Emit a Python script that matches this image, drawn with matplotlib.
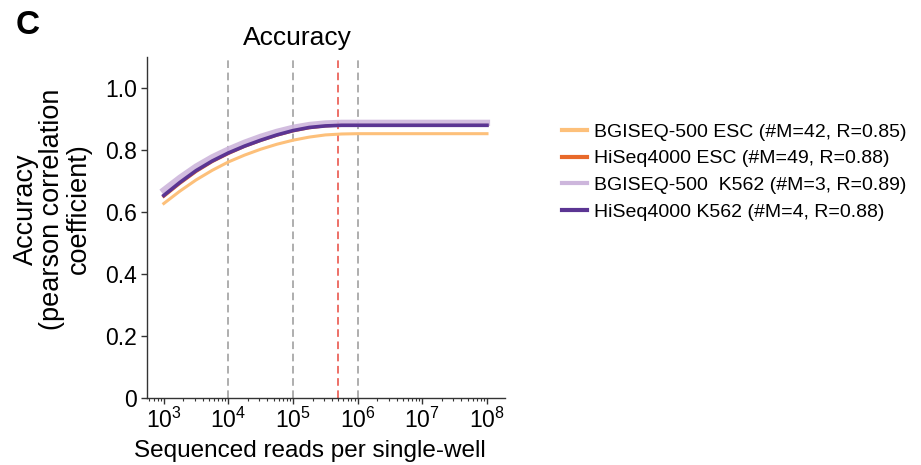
import numpy as np
import matplotlib
matplotlib.use("Agg")
import matplotlib.pyplot as plt
from matplotlib.ticker import LogLocator, NullFormatter

plt.rcParams['font.family'] = ['Liberation Sans', 'DejaVu Sans']
plt.rcParams['mathtext.fontset'] = 'custom'
plt.rcParams['mathtext.rm'] = 'Liberation Sans'
plt.rcParams['mathtext.it'] = 'Liberation Sans:italic'
plt.rcParams['mathtext.bf'] = 'Liberation Sans:bold'

######################################################################
# read depth (log10 of reads per single-well) at which curves were read
log_reads = [3.0, 3.25, 3.5, 3.75, 4.0, 4.25, 4.5, 4.75, 5.0, 5.25, 5.5, 5.75, 6.0, 7.0, 8.0]

# accuracy (pearson correlation coefficient) for each data set
bgi_esc = [0.627, 0.667, 0.703, 0.734, 0.761, 0.783, 0.802, 0.818, 0.831,
           0.841, 0.848, 0.851, 0.852, 0.852, 0.852]
hiseq_esc = [0.650, 0.692, 0.730, 0.762, 0.788, 0.811, 0.830, 0.847, 0.861,
             0.871, 0.877, 0.880, 0.880, 0.880, 0.880]
bgi_k562 = [0.670, 0.710, 0.746, 0.776, 0.801, 0.823, 0.842, 0.858, 0.871,
            0.880, 0.885, 0.887, 0.887, 0.887, 0.887]
hiseq_k562 = [0.653, 0.695, 0.733, 0.764, 0.790, 0.812, 0.831, 0.848, 0.862,
              0.872, 0.877, 0.879, 0.879, 0.879, 0.879]

labels = ['BGISEQ-500 ESC (#M=42, R=0.85)',
          'HiSeq4000 ESC (#M=49, R=0.88)',
          'BGISEQ-500  K562 (#M=3, R=0.89)',
          'HiSeq4000 K562 (#M=4, R=0.88)']

# reference read depths marked with dashed lines
gray_marks = [1e4, 1e5, 1e6]
red_mark = 5e5

yticks = [0, 0.2, 0.4, 0.6, 0.8, 1.0]
ytick_labels = ['0', '0.2', '0.4', '0.6', '0.8', '1.0']

reads = 10 ** np.array(log_reads)

fig = plt.figure(figsize=(9.21, 4.65), dpi=100)
ax = fig.add_axes([0.1596, 0.144, 0.3888, 0.734])

for x in gray_marks:
    ax.axvline(x, color='#999999', lw=1.1, ls=(0, (5, 3)), zorder=1)
ax.axvline(red_mark, color='#e8493f', lw=1.1, ls=(0, (5, 3)), zorder=1)

ax.plot(reads, bgi_esc, color='#fdc07a', lw=2.2, label=labels[0], zorder=3)
ax.plot(reads, hiseq_esc, color='#e8692a', lw=2.2, label=labels[1], zorder=3)
ax.plot(reads, bgi_k562, color='#cdb6dc', lw=4.5, alpha=0.9, label=labels[2], zorder=4)
ax.plot(reads, hiseq_k562, color='#5b3593', lw=2.6, label=labels[3], zorder=5)

ax.set_xscale('log')
ax.set_xlim(10 ** 2.74, 10 ** 8.28)
ax.set_ylim(0, 1.1)
ax.set_xticks([1e3, 1e4, 1e5, 1e6, 1e7, 1e8])
ax.xaxis.set_minor_locator(LogLocator(base=10, subs=np.arange(2, 10), numticks=20))
ax.xaxis.set_minor_formatter(NullFormatter())
ax.set_yticks(yticks)
ax.set_yticklabels(ytick_labels)

for side in ['top', 'right']:
    ax.spines[side].set_visible(False)
for side in ['left', 'bottom']:
    ax.spines[side].set_color('#333333')
    ax.spines[side].set_linewidth(1.0)

ax.tick_params(axis='both', which='major', labelsize=16.5, length=4, width=1,
               color='#333333', pad=3)
ax.tick_params(axis='x', which='minor', length=2.5, width=0.8, color='#333333')

ax.set_xlabel('Sequenced reads per single-well', fontsize=17.5)
ax.xaxis.set_label_coords(0.455, -0.123)
ax.set_ylabel('Accuracy\n(pearson correlation\ncoefficient)', fontsize=19.5,
              linespacing=1.02)
ax.yaxis.set_label_coords(-0.154, 0.554)

fig.text(297 / 921, 1 - 38 / 465, 'Accuracy', fontsize=19, ha='center', va='center')
fig.text(28 / 921, 1 - 26 / 465, 'C', fontsize=24, fontweight='bold', ha='center', va='center')

leg = ax.legend(loc='upper left', bbox_to_anchor=(562 / 921, 1 - 123 / 465),
                bbox_transform=fig.transFigure, frameon=False, fontsize=14,
                handlelength=1.3, handletextpad=0.35, labelspacing=0.47,
                borderpad=0, borderaxespad=0)
for line in leg.get_lines():
    line.set_linewidth(3)
    line.set_alpha(1)

fig.savefig('out.png', dpi=100)
